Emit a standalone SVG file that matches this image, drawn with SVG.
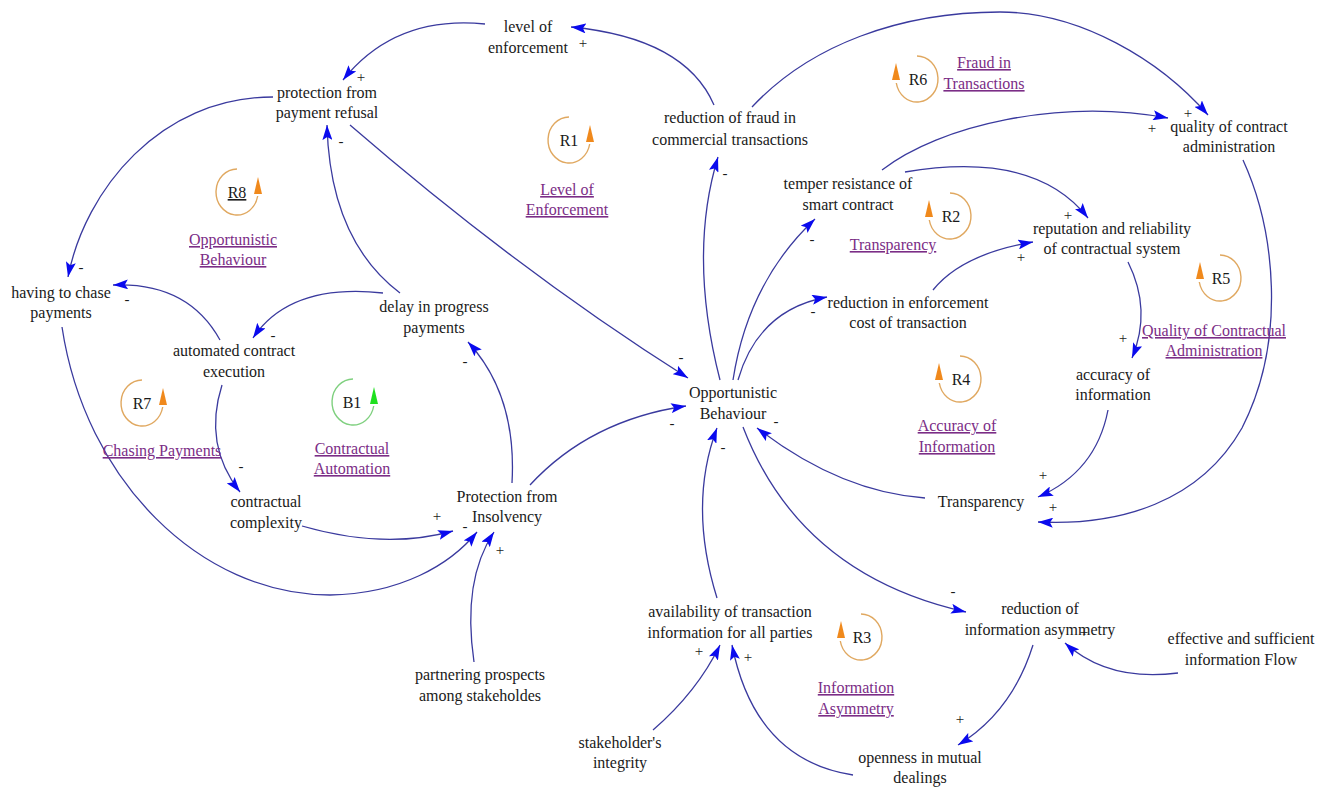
<svg xmlns="http://www.w3.org/2000/svg" width="1333" height="787" viewBox="0 0 1333 787">
  <style>
    .node { font-family: "Liberation Serif", "Times New Roman", serif; font-size: 16px; fill: #1a1a1a; text-anchor: middle; }
    .loopname { font-family: "Liberation Serif", "Times New Roman", serif; font-size: 16px; fill: #7b2d86; text-anchor: middle; text-decoration: underline; }
    .loopid { font-family: "Liberation Serif", "Times New Roman", serif; font-size: 16px; fill: #1a1a1a; text-anchor: middle; }
    .sign { font-family: "Liberation Serif", "Times New Roman", serif; font-size: 15px; fill: #1a1a1a; text-anchor: middle; }
    .link { fill: none; stroke: #3a3a9e; stroke-width: 1.3; marker-end: url(#ah); }
    .ring { fill: none; stroke: #e0a860; stroke-width: 1.4; }
    .ringhead { fill: #f0891c; }
    .ringB { fill: none; stroke: #7fd07f; stroke-width: 1.4; }
    .ringheadB { fill: #1fe01f; }
  </style>
  <defs>
    <marker id="ah" viewBox="0 0 15 10" refX="15" refY="5" markerWidth="15" markerHeight="10" markerUnits="userSpaceOnUse" orient="auto">
      <path d="M0,0 L15,5 L0,10 L3,5 z" fill="#0a0aee"/>
    </marker>
  </defs>
  <rect width="1333" height="787" fill="#ffffff"/>

  <!-- causal links -->
  <g id="connectors">
    <path class="link" d="M714,105 Q685,38 571,27"/>
    <path class="link" d="M485,24 Q395,15 343,80"/>
    <path class="link" d="M273,97 C160,97 85,190 68,277"/>
    <path class="link" d="M350,125 Q520,272 688,378"/>
    <path class="link" d="M400,293 Q330,240 327,125"/>
    <path class="link" d="M383,293 Q290,283 253,338"/>
    <path class="link" d="M220,340 Q188,282 113,285"/>
    <path class="link" d="M222,385 Q203,445 240,492"/>
    <path class="link" d="M302,526 Q385,550 453,531"/>
    <path class="link" d="M62,327 C85,480 200,595 330,595 C400,594 450,565 477,532"/>
    <path class="link" d="M474,662 Q462,580 494,532"/>
    <path class="link" d="M512,483 Q517,395 468,342"/>
    <path class="link" d="M530,485 Q590,420 686,406"/>
    <path class="link" d="M720,380 Q688,255 718,157"/>
    <path class="link" d="M733,380 Q748,282 815,219"/>
    <path class="link" d="M738,380 Q758,310 827,297"/>
    <path class="link" d="M925,498 Q840,492 757,428"/>
    <path class="link" d="M743,427 Q800,575 966,612"/>
    <path class="link" d="M717,598 Q688,505 717,428"/>
    <path class="link" d="M653,730 Q697,692 720,645"/>
    <path class="link" d="M853,775 Q755,760 732,645"/>
    <path class="link" d="M1033,645 Q1012,712 958,745"/>
    <path class="link" d="M1178,673 Q1108,682 1065,643"/>
    <path class="link" d="M933,290 Q962,254 1033,242"/>
    <path class="link" d="M905,172 Q1035,150 1088,218"/>
    <path class="link" d="M882,170 C940,125 1060,98 1168,118"/>
    <path class="link" d="M752,107 C810,45 900,12 1000,12 C1080,12 1160,60 1208,115"/>
    <path class="link" d="M1243,160 C1275,230 1287,340 1242,428 C1200,502 1120,526 1038,522"/>
    <path class="link" d="M1128,262 Q1152,310 1132,358"/>
    <path class="link" d="M1108,410 Q1096,472 1038,497"/>
  </g>

  <!-- polarity signs -->
  <g id="polarities">
    <text class="sign" x="583" y="48">+</text>
    <text class="sign" x="361" y="82">+</text>
    <text class="sign" x="81" y="272">-</text>
    <text class="sign" x="681" y="362">-</text>
    <text class="sign" x="341" y="146">-</text>
    <text class="sign" x="273" y="340">-</text>
    <text class="sign" x="127" y="304">-</text>
    <text class="sign" x="241" y="471">-</text>
    <text class="sign" x="437" y="521">+</text>
    <text class="sign" x="465" y="531">-</text>
    <text class="sign" x="500" y="555">+</text>
    <text class="sign" x="465" y="366">-</text>
    <text class="sign" x="672" y="428">-</text>
    <text class="sign" x="725" y="178">-</text>
    <text class="sign" x="812" y="244">-</text>
    <text class="sign" x="813" y="316">-</text>
    <text class="sign" x="776" y="426">-</text>
    <text class="sign" x="953" y="596">-</text>
    <text class="sign" x="723" y="452">-</text>
    <text class="sign" x="699" y="656">+</text>
    <text class="sign" x="748" y="662">+</text>
    <text class="sign" x="960" y="724">+</text>
    <text class="sign" x="1084" y="637">+</text>
    <text class="sign" x="1021" y="262">+</text>
    <text class="sign" x="1068" y="220">+</text>
    <text class="sign" x="1152" y="133">+</text>
    <text class="sign" x="1188" y="118">+</text>
    <text class="sign" x="1053" y="512">+</text>
    <text class="sign" x="1123" y="343">+</text>
    <text class="sign" x="1043" y="480">+</text>
  </g>

  <!-- variables -->
  <g id="level-of-enforcement"><text class="node" x="528" y="32">level of<tspan x="528" dy="21">enforcement</tspan></text></g>
  <g id="protection-from-payment-refusal"><text class="node" x="327" y="98">protection from<tspan x="327" dy="20">payment refusal</tspan></text></g>
  <g id="reduction-of-fraud"><text class="node" x="730" y="123">reduction of fraud in<tspan x="730" dy="22">commercial transactions</tspan></text></g>
  <g id="temper-resistance"><text class="node" x="848" y="189">temper resistance of<tspan x="848" dy="21">smart contract</tspan></text></g>
  <g id="quality-of-contract-administration"><text class="node" x="1229" y="132">quality of contract<tspan x="1229" dy="20">administration</tspan></text></g>
  <g id="reputation-and-reliability"><text class="node" x="1112" y="234">reputation and reliability<tspan x="1112" dy="20">of contractual system</tspan></text></g>
  <g id="having-to-chase-payments"><text class="node" x="61" y="298">having to chase<tspan x="61" dy="20">payments</tspan></text></g>
  <g id="automated-contract-execution"><text class="node" x="234" y="356">automated contract<tspan x="234" dy="21">execution</tspan></text></g>
  <g id="delay-in-progress-payments"><text class="node" x="434" y="312">delay in progress<tspan x="434" dy="21">payments</tspan></text></g>
  <g id="opportunistic-behaviour"><text class="node" x="733" y="398">Opportunistic<tspan x="733" dy="21">Behaviour</tspan></text></g>
  <g id="reduction-in-enforcement-cost"><text class="node" x="908" y="308">reduction in enforcement<tspan x="908" dy="20">cost of transaction</tspan></text></g>
  <g id="accuracy-of-information"><text class="node" x="1113" y="380">accuracy of<tspan x="1113" dy="20">information</tspan></text></g>
  <g id="transparency"><text class="node" x="981" y="507">Transparency</text></g>
  <g id="contractual-complexity"><text class="node" x="266" y="507">contractual<tspan x="266" dy="21">complexity</tspan></text></g>
  <g id="protection-from-insolvency"><text class="node" x="507" y="502">Protection from<tspan x="507" dy="20">Insolvency</tspan></text></g>
  <g id="partnering-prospects"><text class="node" x="480" y="680">partnering prospects<tspan x="480" dy="21">among stakeholdes</tspan></text></g>
  <g id="availability-of-information"><text class="node" x="730" y="617">availability of transaction<tspan x="730" dy="21">information for all parties</tspan></text></g>
  <g id="stakeholders-integrity"><text class="node" x="620" y="748">stakeholder's<tspan x="620" dy="20">integrity</tspan></text></g>
  <g id="openness-in-mutual-dealings"><text class="node" x="920" y="763">openness in mutual<tspan x="920" dy="20">dealings</tspan></text></g>
  <g id="reduction-of-information-asymmetry"><text class="node" x="1040" y="614">reduction of<tspan x="1040" dy="21">information asymmetry</tspan></text></g>
  <g id="effective-information-flow"><text class="node" x="1241" y="644">effective and sufficient<tspan x="1241" dy="21">information Flow</tspan></text></g>

  <!-- loop identifiers -->
  <g id="loop-R1">
    <path class="ring" d="M569,117 A21 23 0 1 0 589.7,144"/>
    <polygon class="ringhead" points="590,125 586,142 594,142"/>
    <text class="loopid" x="569" y="146">R1</text>
    <text class="loopname" x="567" y="195">Level of<tspan x="567" dy="20">Enforcement</tspan></text>
  </g>
  <g id="loop-R8">
    <path class="ring" d="M237,169 A21 23 0 1 0 257.7,196"/>
    <polygon class="ringhead" points="258,177 254,194 262,194"/>
    <text class="loopid" x="237" y="198" text-decoration="underline">R8</text>
    <text class="loopname" x="233" y="245">Opportunistic<tspan x="233" dy="20">Behaviour</tspan></text>
  </g>
  <g id="loop-R7">
    <path class="ring" d="M142,380 A21 23 0 1 0 162.7,407"/>
    <polygon class="ringhead" points="163,388 159,405 167,405"/>
    <text class="loopid" x="142" y="409">R7</text>
    <text class="loopname" x="162" y="456">Chasing Payments</text>
  </g>
  <g id="loop-B1">
    <path class="ringB" d="M353,379 A21 23 0 1 0 373.7,406"/>
    <polygon class="ringheadB" points="374,387 370,404 378,404"/>
    <text class="loopid" x="352" y="408">B1</text>
    <text class="loopname" x="352" y="454">Contractual<tspan x="352" dy="20">Automation</tspan></text>
  </g>
  <g id="loop-R6">
    <path class="ring" d="M917,56 A21 23 0 1 1 896.3,83"/>
    <polygon class="ringhead" points="896,63 892,80 900,80"/>
    <text class="loopid" x="918" y="85">R6</text>
    <text class="loopname" x="984" y="68">Fraud in<tspan x="984" dy="21">Transactions</tspan></text>
  </g>
  <g id="loop-R2">
    <path class="ring" d="M950,193 A21 23 0 1 1 929.3,220"/>
    <polygon class="ringhead" points="929,200 925,217 933,217"/>
    <text class="loopid" x="951" y="222">R2</text>
    <text class="loopname" x="893" y="250">Transparency</text>
  </g>
  <g id="loop-R5">
    <path class="ring" d="M1220,255 A21 23 0 1 1 1199.3,282"/>
    <polygon class="ringhead" points="1200,262 1196,279 1204,279"/>
    <text class="loopid" x="1221" y="284">R5</text>
    <text class="loopname" x="1214" y="336">Quality of Contractual<tspan x="1214" dy="20">Administration</tspan></text>
  </g>
  <g id="loop-R4">
    <path class="ring" d="M960,356 A21 23 0 1 1 939.3,383"/>
    <polygon class="ringhead" points="939,363 935,380 943,380"/>
    <text class="loopid" x="961" y="385">R4</text>
    <text class="loopname" x="957" y="431">Accuracy of<tspan x="957" dy="21">Information</tspan></text>
  </g>
  <g id="loop-R3">
    <path class="ring" d="M861,614 A21 23 0 1 1 840.3,641"/>
    <polygon class="ringhead" points="841,621 837,638 845,638"/>
    <text class="loopid" x="862" y="643">R3</text>
    <text class="loopname" x="856" y="693">Information<tspan x="856" dy="21">Asymmetry</tspan></text>
  </g>
</svg>
